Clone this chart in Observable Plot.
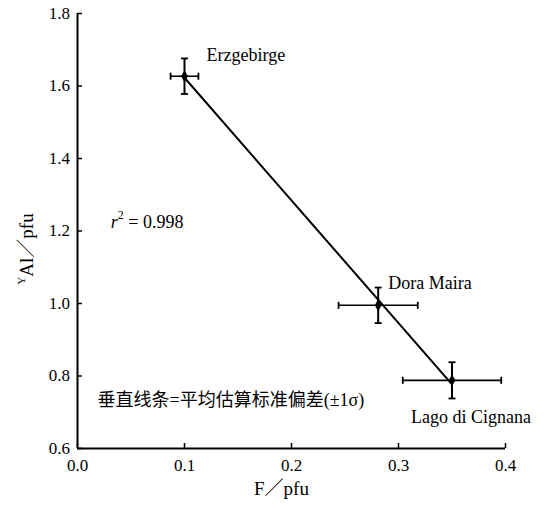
<!DOCTYPE html>
<html>
<head>
<meta charset="utf-8">
<script src="https://cdn.jsdelivr.net/npm/d3@7"></script>
<script src="https://cdn.jsdelivr.net/npm/@observablehq/plot@0.6"></script>
<style>
  html, body { margin: 0; padding: 0; background: #fff; }
  #chart svg { display: block; }
  #chart svg text, #chart svg tspan { font-family: "Times New Roman", "Liberation Serif", "DejaVu Serif", "Noto Sans CJK SC", serif !important; }
</style>
</head>
<body>
<div id="chart"></div>
<script>
// ---- data ----
const localities = ["Erzgebirge", "Dora Maira", "Lago di Cignana"];
const fPfu = [0.100, 0.281, 0.350];
const fSd = [0.013, 0.037, 0.046];
const yAlPfu = [1.627, 0.995, 0.788];
const yAlSd = [0.049, 0.049, 0.050];
const xTicks = [0.0, 0.1, 0.2, 0.3, 0.4];
const yTicks = [0.6, 0.8, 1.0, 1.2, 1.4, 1.6, 1.8];
const r2Text = "0.998";
const noteText = "垂直线条=平均估算标准偏差(±1σ)";
const xLabel = "F／pfu";
const yLabelSup = "Y";
const yLabelMain = "Al／pfu";

const data = localities.map((name, i) => ({
  name, F: fPfu[i], eF: fSd[i], Y: yAlPfu[i], eY: yAlSd[i]
}));

const serif = '"Times New Roman", "Liberation Serif", "DejaVu Serif", "Noto Sans CJK SC", serif';

// cap symbols for error bars
const capV = { draw(ctx) { ctx.moveTo(0, -3.5); ctx.lineTo(0, 3.5); } };
const capH = { draw(ctx) { ctx.moveTo(-3.5, 0); ctx.lineTo(3.5, 0); } };

const hEnds = data.flatMap(d => [{x: d.F - d.eF, y: d.Y}, {x: d.F + d.eF, y: d.Y}]);
const vEnds = data.flatMap(d => [{x: d.F, y: d.Y - d.eY}, {x: d.F, y: d.Y + d.eY}]);

const labelOffsets = [
  {dx: 22, dy: -21},
  {dx: 10, dy: -22},
  {dx: -41, dy: 37}
];

const chart = Plot.plot({
  width: 550,
  height: 508,
  marginLeft: 77,
  marginRight: 45,
  marginTop: 13,
  marginBottom: 60,
  style: {fontFamily: serif, fontSize: "17px", color: "black", background: "white", overflow: "visible"},
  x: {domain: [0, 0.4]},
  y: {domain: [0.6, 1.8]},
  marks: [
    Plot.axisX(xTicks, {tickSize: -5, tickPadding: 15, tickFormat: d3.format(".1f"), label: null, strokeWidth: 1.5, fontSize: 17, fontFamily: serif}),
    Plot.axisY(yTicks, {tickSize: -5, tickPadding: 12.5, tickFormat: d3.format(".1f"), label: null, strokeWidth: 1.5, fontSize: 17, fontFamily: serif}),
    Plot.ruleX([0], {y1: 0.6, y2: 1.8, strokeWidth: 2}),
    Plot.ruleY([0.6], {x1: 0, x2: 0.4, strokeWidth: 2}),
    Plot.linearRegressionY(data, {x: "F", y: "Y", ci: 0, stroke: "black", strokeWidth: 2}),
    Plot.link(data, {x1: d => d.F - d.eF, x2: d => d.F + d.eF, y1: "Y", y2: "Y", stroke: "black", strokeWidth: 1.6}),
    Plot.link(data, {x1: "F", x2: "F", y1: d => d.Y - d.eY, y2: d => d.Y + d.eY, stroke: "black", strokeWidth: 2}),
    Plot.dot(hEnds, {x: "x", y: "y", symbol: capV, stroke: "black", strokeWidth: 1.8, r: 3}),
    Plot.dot(vEnds, {x: "x", y: "y", symbol: capH, stroke: "black", strokeWidth: 1.8, r: 3}),
    Plot.dot(data, {x: "F", y: "Y", symbol: "diamond", r: 3.6, fill: "black"}),
    ...data.map((d, i) => Plot.text([d], {
      x: "F", y: "Y", text: "name", textAnchor: "start",
      dx: labelOffsets[i].dx, dy: labelOffsets[i].dy,
      fontSize: 18, fontFamily: serif, fill: "black"
    })),
    Plot.text([noteText], {x: 0.0187, y: 0.733, text: d => d, textAnchor: "start", fontSize: 18, fontFamily: serif, fill: "black"}),
    Plot.text([xLabel], {frameAnchor: "bottom", dy: 46, dx: -10, text: d => d, fontSize: 19, fontFamily: serif, fill: "black"})
  ]
});

chart.style.fontFamily = serif;
document.getElementById("chart").appendChild(chart);

const svg = d3.select(chart);
const xs = chart.scale("x");
const ys = chart.scale("y");

// r² annotation with italic r and superscript 2
const r2 = svg.append("text")
  .attr("x", xs.apply(0.0655))
  .attr("y", ys.apply(1.223))
  .attr("dy", "0.32em")
  .style("font-size", "18px")
  .attr("fill", "black");
r2.append("tspan").style("font-style", "italic").text("r");
r2.append("tspan").style("font-size", "12px").attr("dy", "-0.75em").text("2");
r2.append("tspan").attr("dy", "0.5em").text(" = " + r2Text);

// y-axis label with small raised Y
const yl = svg.append("text")
  .attr("transform", "translate(33,249) rotate(-90)")
  .attr("text-anchor", "middle")
  .style("font-size", "19px")
  .attr("fill", "black");
yl.append("tspan").style("font-size", "11px").attr("dy", "-0.7em").text(yLabelSup);
yl.append("tspan").attr("dy", "0.4em").text(yLabelMain);
</script>
</body>
</html>
